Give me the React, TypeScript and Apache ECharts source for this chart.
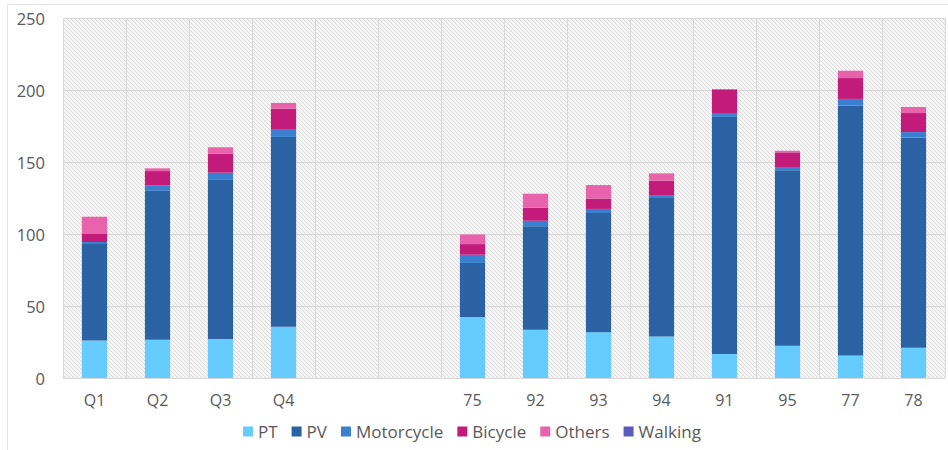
import React, { useEffect, useRef } from "react";
import * as echarts from "echarts";

const categories = ["Q1", "Q2", "Q3", "Q4", "", " ", "75", "92", "93", "94", "91", "95", "77", "78"];
const ptValues = [26, 26.6, 27, 35.6, null, null, 42.4, 33.5, 31.7, 28.9, 16.7, 22.4, 15.7, 21];
const pvValues = [67, 103.4, 111, 131.8, null, null, 37.5, 71.8, 82.9, 96.1, 164.6, 121.8, 173.4, 146.1];
const motorcycleValues = [1.5, 3.8, 4.6, 5.5, null, null, 5.7, 3.9, 2.8, 1.6, 2.7, 2.3, 4.7, 3.7];
const bicycleValues = [5.5, 9.9, 13.2, 14.1, null, null, 7.4, 9.1, 7.1, 10.4, 16, 10.2, 14.5, 13.2];
const othersValues = [12, 1.9, 4.4, 4, null, null, 6.7, 9.7, 9.5, 5.1, 0.7, 1.1, 5.1, 4.2];
const walkingValues = [0, 0, 0, 0, null, null, 0, 0, 0, 0, 0, 0, 0, 0];

const seriesNames = ["PT", "PV", "Motorcycle", "Bicycle", "Others", "Walking"];
const seriesColors = ["#66ccff", "#2b62a3", "#3b80d0", "#c21b7a", "#e863ac", "#5b5bbf"];
const seriesData = [ptValues, pvValues, motorcycleValues, bicycleValues, othersValues, walkingValues];
const yTicks = { min: 0, max: 250, interval: 50 };

function makePattern(): HTMLCanvasElement {
  const c = document.createElement("canvas");
  c.width = 4;
  c.height = 4;
  const ctx = c.getContext("2d")!;
  ctx.fillStyle = "#f5f5f5";
  ctx.fillRect(0, 0, 4, 4);
  ctx.strokeStyle = "#dcdcdc";
  ctx.lineWidth = 1;
  ctx.beginPath();
  ctx.moveTo(0, 0);
  ctx.lineTo(4, 4);
  ctx.moveTo(-1, 3);
  ctx.lineTo(1, 5);
  ctx.moveTo(3, -1);
  ctx.lineTo(5, 1);
  ctx.stroke();
  return c;
}

export default function App() {
  const ref = useRef<HTMLDivElement>(null);
  useEffect(() => {
    if (!ref.current) return;
    const chart = echarts.init(ref.current, undefined, { renderer: "svg" });
    const font = "'Open Sans', 'Noto Sans', sans-serif";
    let bg: any = "#efefef";
    try {
      bg = { image: makePattern(), repeat: "repeat" };
    } catch (e) {
      bg = "#efefef";
    }
    chart.setOption({
      animation: false,
      backgroundColor: "#ffffff",
      textStyle: { fontFamily: font },
      graphic: [
        {
          type: "rect",
          shape: { x: 7.5, y: 4.5, width: 960, height: 460 },
          style: { fill: "none", stroke: "#e4e4e4", lineWidth: 1 },
          silent: true,
          z: -10,
        },
      ],
      grid: {
        left: 63,
        right: 3,
        top: 18,
        bottom: 72,
        show: true,
        backgroundColor: bg,
        borderWidth: 0,
      },
      legend: {
        data: seriesNames,
        bottom: 5,
        left: 238,
        itemWidth: 10,
        itemHeight: 10,
        itemGap: 14,
        icon: "rect",
        textStyle: { color: "#595959", fontSize: 17, fontFamily: font },
      },
      xAxis: {
        type: "category",
        data: categories,
        axisLine: { show: true, lineStyle: { color: "#d9d9d9" } },
        axisTick: { show: false },
        axisLabel: { color: "#595959", fontSize: 16, margin: 14, interval: 0, fontFamily: font },
        splitLine: { show: true, interval: 0, lineStyle: { color: "#d9d9d9", width: 1 } },
      },
      yAxis: {
        type: "value",
        min: yTicks.min,
        max: yTicks.max,
        interval: yTicks.interval,
        axisLine: { show: false },
        axisTick: { show: false },
        axisLabel: { color: "#595959", fontSize: 16.5, margin: 18, fontFamily: font },
        splitLine: { show: true, lineStyle: { color: "#d9d9d9", width: 1 } },
      },
      series: seriesNames.map((name, i) => ({
        name,
        type: "bar",
        stack: "total",
        data: seriesData[i],
        barWidth: "40%",
        itemStyle: { color: seriesColors[i] },
      })),
    });
    return () => chart.dispose();
  }, []);
  return (
    <div
      ref={ref}
      style={{ position: "absolute", left: 0, top: 0, width: 948, height: 450 }}
    />
  );
}
